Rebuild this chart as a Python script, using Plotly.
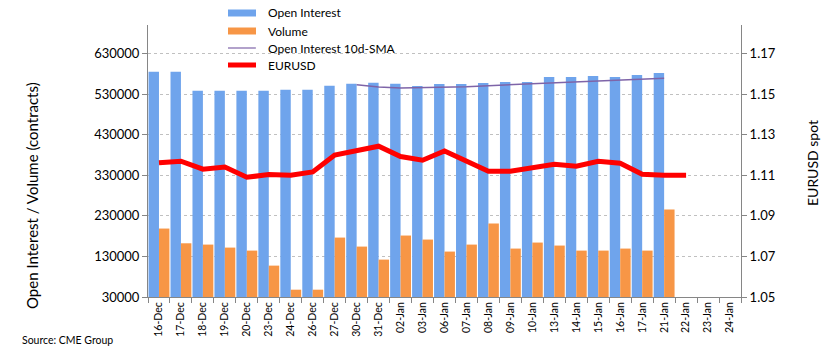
import plotly.graph_objects as go

dates = ["16-Dec", "17-Dec", "18-Dec", "19-Dec", "20-Dec", "23-Dec", "24-Dec", "26-Dec",
         "27-Dec", "30-Dec", "31-Dec", "02-Jan", "03-Jan", "06-Jan", "07-Jan", "08-Jan",
         "09-Jan", "10-Jan", "13-Jan", "14-Jan", "15-Jan", "16-Jan", "17-Jan", "21-Jan",
         "22-Jan", "23-Jan", "24-Jan"]

open_interest = [585000, 585000, 538000, 538000, 538000, 538000, 540600, 540600,
                 550500, 555400, 558000, 555400, 549700, 554700, 554700, 557000,
                 559600, 559600, 572000, 572000, 574400, 572000, 577000, 581900,
                 None, None, None]

volume = [198600, 162300, 159100, 151700, 144300, 107300, 48000, 48000,
          176400, 154200, 122100, 181400, 171500, 141900, 159100, 211000,
          149300, 164100, 156700, 144300, 144300, 149300, 144300, 245600,
          None, None, None]

oi_sma10 = [None, None, None, None, None, None, None, None, None,
            553000, 547000, 544800, 545600, 546500, 548000, 550500,
            553000, 553900, 557000, 558800, 561300, 563800, 566300, 568800,
            None, None, None]

eurusd = [1.1161, 1.1169, 1.1130, 1.1140, 1.1090, 1.1103, 1.1100, 1.1116,
          1.1199, 1.1222, 1.1243, 1.1192, 1.1174, 1.1219, 1.1169, 1.1120,
          1.1120, 1.1135, 1.1154, 1.1144, 1.1169, 1.1159, 1.1105, 1.1100,
          1.1100, None, None]

left_ticks = [30000, 130000, 230000, 330000, 430000, 530000, 630000]
right_ticks = [1.05, 1.07, 1.09, 1.11, 1.13, 1.15, 1.17]

series_names = ["Open Interest", "Volume", "Open Interest 10d-SMA", "EURUSD"]

FONT = "Lato"
AXIS_COLOR = "#868686"
C_OI, C_VOL, C_SMA, C_FX = "#6fa4ec", "#f79646", "#7e64a8", "#ff0000"

W, H = 829, 354
ML, MR, MT, MB = 148, 88, 25, 57
PW, PH = W - ML - MR, H - MT - MB


def px(x):
    return (x - ML) / PW


def py(y):
    return (H - MB - y) / PH


fig = go.Figure()
fig.add_trace(go.Bar(x=dates, y=open_interest, name=series_names[0],
                     marker=dict(color=C_OI, line=dict(width=0))))
fig.add_trace(go.Bar(x=dates, y=volume, name=series_names[1],
                     marker=dict(color=C_VOL, line=dict(width=0))))
fig.add_trace(go.Scatter(x=dates, y=oi_sma10, name=series_names[2], mode="lines",
                         line=dict(color=C_SMA, width=1.5)))
fig.add_trace(go.Scatter(x=dates, y=eurusd, name=series_names[3], mode="lines", yaxis="y2",
                         line=dict(color=C_FX, width=5)))

# manual legend (wide swatches like the original)
legend_y = [13, 31, 48, 65]
shapes = [
    dict(type="rect", xref="paper", yref="paper", x0=px(228), x1=px(256),
         y0=py(legend_y[0] + 3.5), y1=py(legend_y[0] - 3.5), fillcolor=C_OI,
         line=dict(width=0)),
    dict(type="rect", xref="paper", yref="paper", x0=px(228), x1=px(256),
         y0=py(legend_y[1] + 3.5), y1=py(legend_y[1] - 3.5), fillcolor=C_VOL,
         line=dict(width=0)),
    dict(type="line", xref="paper", yref="paper", x0=px(228), x1=px(256),
         y0=py(legend_y[2]), y1=py(legend_y[2]), line=dict(color=C_SMA, width=1.2)),
    dict(type="line", xref="paper", yref="paper", x0=px(228), x1=px(256),
         y0=py(legend_y[3]), y1=py(legend_y[3]), line=dict(color=C_FX, width=5)),
]
annotations = [
    dict(text=name, xref="paper", yref="paper", x=px(266), y=py(yy),
         xanchor="left", yanchor="middle", showarrow=False,
         font=dict(family=FONT, size=12))
    for name, yy in zip(series_names, legend_y)
]
annotations += [
    dict(text="Open Interest / Volume (contracts)", textangle=-90,
         xref="paper", yref="paper", x=px(32), y=py(196), xanchor="center",
         yanchor="middle", showarrow=False, font=dict(family=FONT, size=15)),
    dict(text="EURUSD spot", textangle=-90,
         xref="paper", yref="paper", x=px(812), y=py(163), xanchor="center",
         yanchor="middle", showarrow=False, font=dict(family=FONT, size=14)),
    dict(text="Source: CME Group", xref="paper", yref="paper",
         x=px(20), y=py(340), xanchor="left", yanchor="middle", showarrow=False,
         font=dict(family=FONT, size=10.5)),
]

fig.update_layout(
    width=W, height=H,
    margin=dict(l=ML, r=MR, t=MT, b=MB, autoexpand=False),
    paper_bgcolor="white", plot_bgcolor="white",
    font=dict(family=FONT, color="#000000", size=13),
    barmode="group", bargap=0.05, bargroupgap=0.0,
    showlegend=False,
    xaxis=dict(type="category", categoryorder="array", categoryarray=dates,
               tickangle=-90, tickfont=dict(size=10.5), showline=True,
               linecolor=AXIS_COLOR, linewidth=1, ticks="outside", tickson="boundaries",
               ticklen=5, tickcolor=AXIS_COLOR, showgrid=False, automargin=False),
    yaxis=dict(range=[30000, 700000], tickvals=left_ticks,
               ticktext=[str(v) for v in left_ticks], showline=True,
               linecolor=AXIS_COLOR, linewidth=1, ticks="outside", ticklen=5,
               tickcolor=AXIS_COLOR, showgrid=True, gridcolor="#c0c0c0",
               griddash="dot", gridwidth=1, zeroline=False, automargin=False,
               tickfont=dict(size=13)),
    yaxis2=dict(range=[1.05, 1.184], tickvals=right_ticks,
                ticktext=[f"{v:.2f}" for v in right_ticks], overlaying="y", side="right",
                showline=True, linecolor=AXIS_COLOR, linewidth=1, ticks="outside",
                ticklen=5, tickcolor=AXIS_COLOR, showgrid=False, zeroline=False,
                automargin=False, tickfont=dict(size=13)),
    shapes=shapes,
    annotations=annotations,
)

fig.write_html("out.html")
